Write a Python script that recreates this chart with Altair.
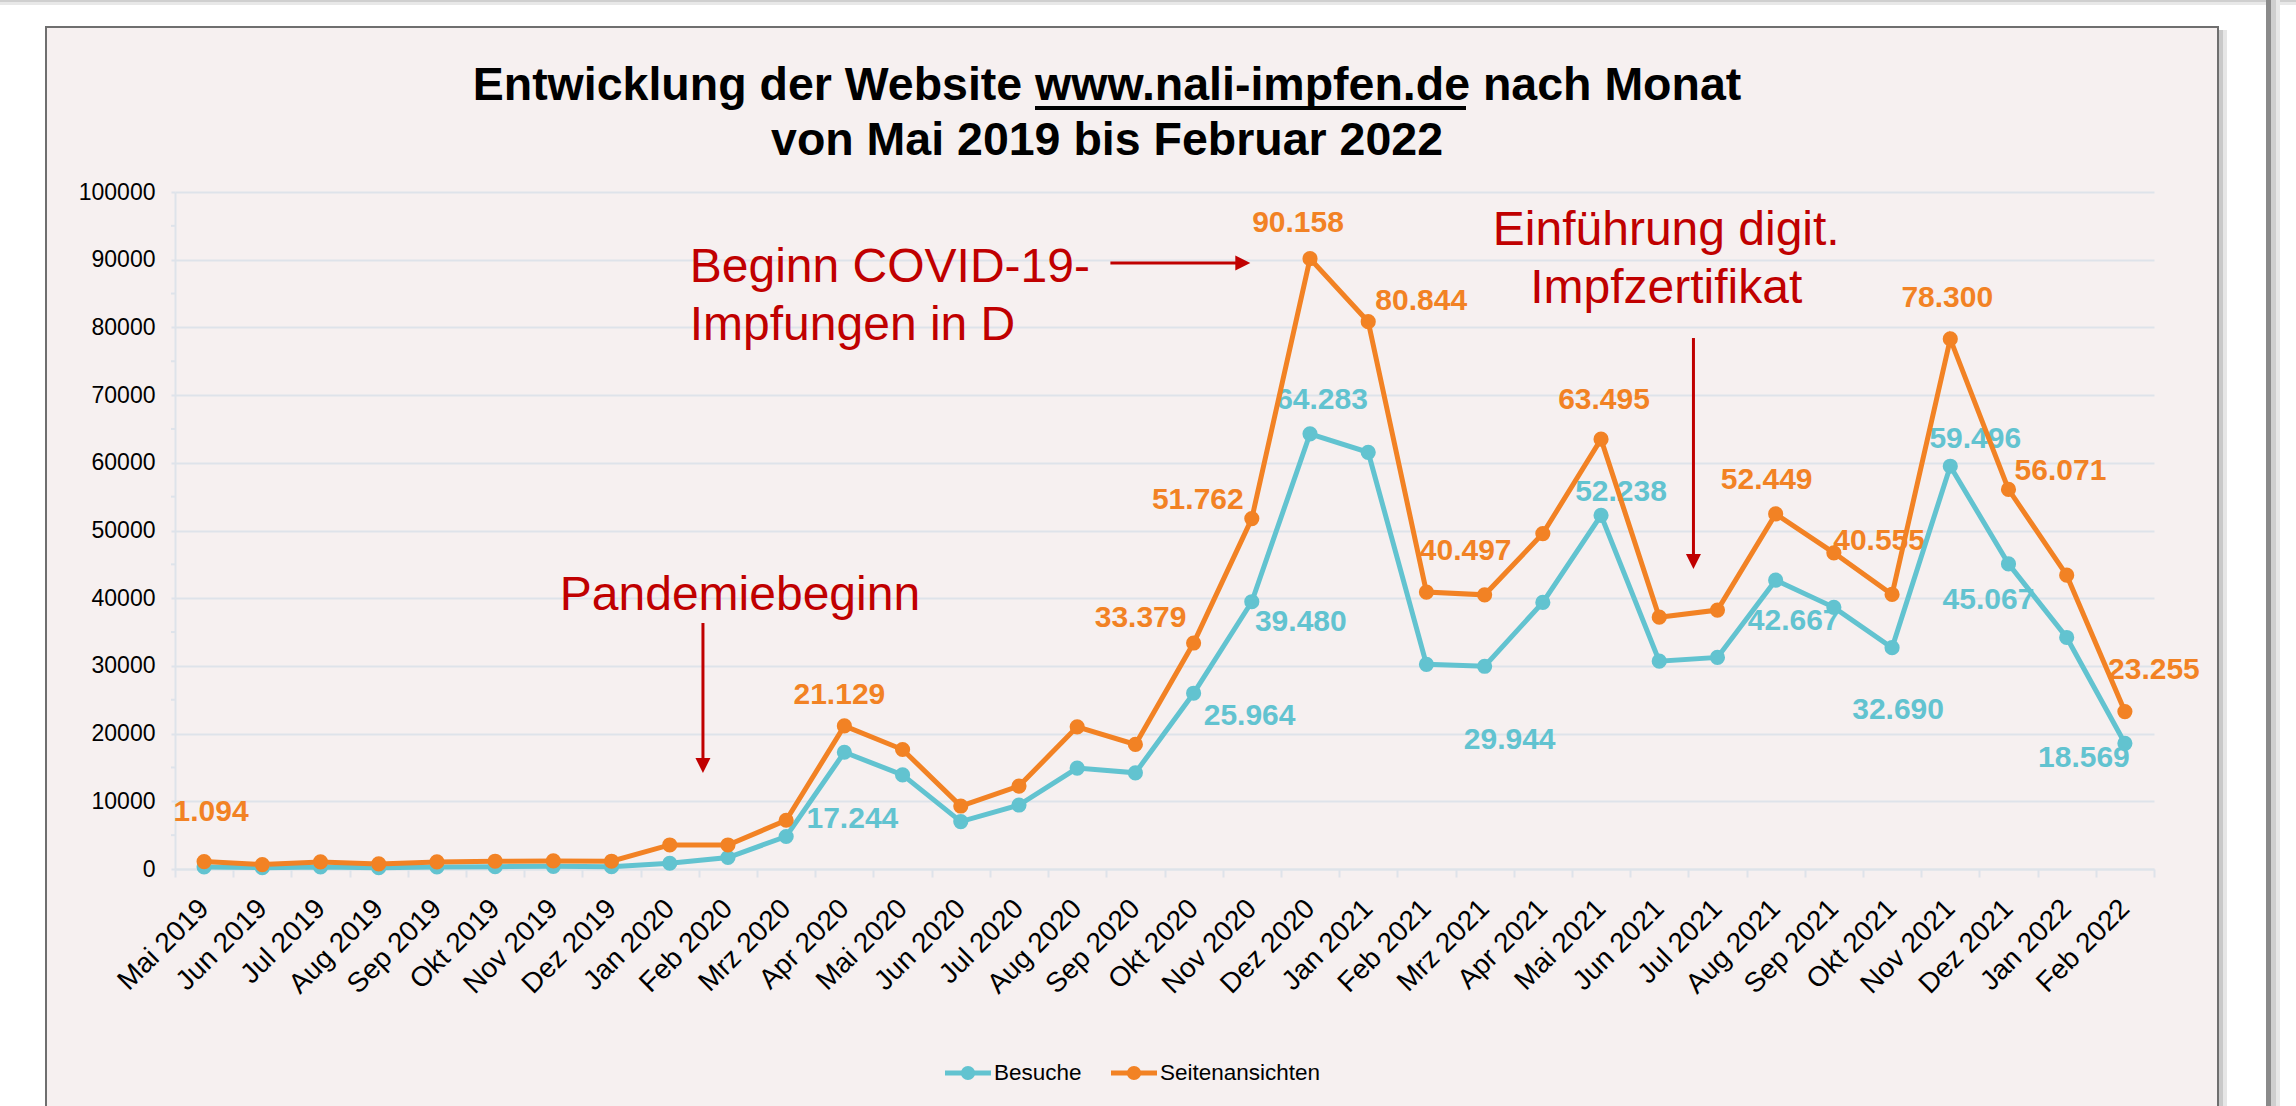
import altair as alt
import pandas as pd

# ---------------- data ----------------
months = ["Mai 2019", "Jun 2019", "Jul 2019", "Aug 2019", "Sep 2019", "Okt 2019", "Nov 2019", "Dez 2019",
          "Jan 2020", "Feb 2020", "Mrz 2020", "Apr 2020", "Mai 2020", "Jun 2020", "Jul 2020", "Aug 2020",
          "Sep 2020", "Okt 2020", "Nov 2020", "Dez 2020", "Jan 2021", "Feb 2021", "Mrz 2021", "Apr 2021",
          "Mai 2021", "Jun 2021", "Jul 2021", "Aug 2021", "Sep 2021", "Okt 2021", "Nov 2021", "Dez 2021",
          "Jan 2022", "Feb 2022"]
besuche = [300, 200, 300, 200, 300, 350, 400, 350, 850, 1700, 4800, 17244, 13900, 7000, 9450, 14900,
           14200, 25964, 39480, 64283, 61550, 30230, 29944, 39380, 52238, 30700, 31250, 42667, 38650,
           32690, 59496, 45067, 34200, 18569]
seitenansichten = [1094, 650, 1050, 750, 1050, 1150, 1200, 1150, 3550, 3550, 7200, 21129, 17650, 9300,
                   12250, 21000, 18400, 33379, 51762, 90158, 80844, 40900, 40497, 49550, 63495, 37200,
                   38250, 52449, 46700, 40555, 78300, 56071, 43400, 23255]
series_names = ["Besuche", "Seitenansichten"]
minor_ticks = list(range(5000, 100000, 10000))

title_lines = ["Entwicklung der Website www.nali-impfen.de  nach Monat", "von Mai 2019 bis Februar 2022"]

# ---------------- layout / style ----------------
FONT = "Liberation Sans, Arial, Helvetica, sans-serif"
TEAL = "#62C3D0"
ORANGE = "#F28224"
SERIES_COLORS = [TEAL, ORANGE]
RED = "#C00000"
GRID = "#DEE3EA"
BG = "#F6F0F0"
CANVAS_W, CANVAS_H = 2296, 1106
LEFT, TOP = 175, 192
W, H = 1979, 677
YMAX = 100000
BW = W / len(months)

# which points carry a value label, and the label centre offset from the point (px)
label_offsets = {
    "Seitenansichten": {
        "Mai 2019": (7, -50), "Apr 2020": (-5, -31), "Okt 2020": (-53, -25), "Nov 2020": (-54, -19),
        "Dez 2020": (-12, -36), "Jan 2021": (53, -21), "Mrz 2021": (-19, -44), "Mai 2021": (3, -39),
        "Aug 2021": (-9, -34), "Okt 2021": (-13, -53), "Nov 2021": (-3, -41), "Dez 2021": (52, -18),
        "Feb 2022": (29, -42),
    },
    "Besuche": {
        "Apr 2020": (8, 67), "Okt 2020": (56, 23), "Nov 2020": (49, 20), "Dez 2020": (12, -34),
        "Mrz 2021": (25, 74), "Mai 2021": (20, -23), "Aug 2021": (18, 41), "Okt 2021": (6, 62),
        "Nov 2021": (25, -27), "Dez 2021": (-20, 36), "Feb 2022": (-41, 15),
    },
}
# legend entry layout (canvas px): symbol left edge, symbol width, vertical centre
legend_layout = {"Besuche": 945, "Seitenansichten": 1111}
LEG_SYM_W, LEG_Y = 46, 1073

rows = []
for s, vals in zip(series_names, [besuche, seitenansichten]):
    for i, (m, v) in enumerate(zip(months, vals)):
        rows.append({"month": m, "series": s, "value": v, "order": i})
df = pd.DataFrame(rows)

lab_rows = []
for s, vals in zip(series_names, [besuche, seitenansichten]):
    lookup = dict(zip(months, vals))
    for m, (dx, dy) in label_offsets[s].items():
        v = lookup[m]
        lab_rows.append({"month": m, "series": s, "value": v,
                         "text": f"{v:,}".replace(",", "."), "dx": dx, "dy": dy})
labdf = pd.DataFrame(lab_rows)

xsc = alt.Scale(domain=months, paddingInner=0, paddingOuter=0)
ysc = alt.Scale(domain=[0, YMAX], nice=False, zero=True)


def csc():
    return alt.Scale(domain=series_names, range=SERIES_COLORS)


one = pd.DataFrame({"k": [0]})


def ax(X):
    return X - LEFT


def ay(Y):
    return Y - TOP


def deco_rect(x1, y1, x2, y2, color):
    return alt.Chart(one).mark_rect(color=color, opacity=1).encode(
        x=alt.value(ax(x1)), x2=alt.value(ax(x2)), y=alt.value(ay(y1)), y2=alt.value(ay(y2)))


# ---------------- frame decoration ----------------
deco = [
    deco_rect(0, 0, 45, CANVAS_H, "white"),
    deco_rect(0, 0, CANVAS_W, 26, "white"),
    deco_rect(2219, 0, CANVAS_W, CANVAS_H, "white"),
    deco_rect(0, 0, CANVAS_W, 2, "#CFCFCF"),
    deco_rect(0, 2, CANVAS_W, 5, "#E8E8E8"),
    deco_rect(45, 26, 47, CANVAS_H, "#6F6F6F"),
    deco_rect(45, 26, 2219, 28, "#6F6F6F"),
    deco_rect(2217, 26, 2219, CANVAS_H, "#6F6F6F"),
    deco_rect(2219, 30, 2223, CANVAS_H, "#C9C9C9"),
    deco_rect(2223, 30, 2227, CANVAS_H, "#E6E6E6"),
    deco_rect(2266, 0, 2271, CANVAS_H, "#8A8A8A"),
    deco_rect(2271, 0, 2276, CANVAS_H, "#CFCFCF"),
    deco_rect(2276, 0, 2280, CANVAS_H, "#E8E8E8"),
]

# ---------------- axes ----------------
xaxis = alt.Axis(title=None, labelAngle=-45, labelAlign="right", labelBaseline="middle",
                 labelFont=FONT, labelFontSize=28, labelColor="black", labelPadding=27,
                 labelOverlap=False, tickBand="extent", tickSize=8, tickColor=GRID, tickWidth=2,
                 domainColor=GRID, domainWidth=2, grid=False)
yaxis = alt.Axis(title=None, values=list(range(0, YMAX + 1, 10000)), format="d",
                 labelFont=FONT, labelFontSize=23, labelColor="black", labelPadding=16,
                 tickSize=4, tickColor=GRID, tickWidth=2, domainColor=GRID, domainWidth=2,
                 grid=True, gridColor=GRID, gridWidth=2)


def X(field="month"):
    return alt.X(f"{field}:N", scale=xsc, axis=xaxis)


def Y(field):
    return alt.Y(f"{field}:Q", scale=ysc, axis=yaxis)


minor = alt.Chart(pd.DataFrame({"t": minor_ticks})).mark_rule(color=GRID, strokeWidth=2).encode(
    x=alt.value(-4), x2=alt.value(0), y=Y("t"))

# ---------------- data layers ----------------
labels = alt.Chart(labdf).transform_calculate(
    xo=f"datum.dx + {BW / 2}",
    ly=f"datum.value - datum.dy * {YMAX / H}",
).mark_text(font=FONT, fontSize=30, fontWeight="bold", align="center", baseline="middle").encode(
    x=X(),
    xOffset=alt.XOffset("xo:Q", scale=None),
    y=Y("ly"),
    text="text:N",
    fill=alt.Fill("series:N", scale=csc(), legend=None),
)

lines = alt.Chart(df).mark_line(strokeWidth=5).encode(
    x=X(), y=Y("value"),
    stroke=alt.Stroke("series:N", scale=csc(), legend=None),
    order=alt.Order("order:Q"),
)

points = alt.Chart(df).mark_point(filled=True, size=230, opacity=1, shape="circle", strokeWidth=0).encode(
    x=X(), y=Y("value"),
    color=alt.Color("series:N", scale=csc(), legend=None),
)

# ---------------- legend (drawn as marks) ----------------
legend_layers = []
for s, col in zip(series_names, SERIES_COLORS):
    x0 = legend_layout[s]
    d = pd.DataFrame({"series": [s]})
    legend_layers += [
        alt.Chart(d).mark_rule(color=col, strokeWidth=5).encode(
            x=alt.value(ax(x0)), x2=alt.value(ax(x0 + LEG_SYM_W)), y=alt.value(ay(LEG_Y))),
        alt.Chart(d).mark_point(filled=True, size=200, opacity=1, color=col, strokeWidth=0).encode(
            x=alt.value(ax(x0 + LEG_SYM_W / 2)), y=alt.value(ay(LEG_Y))),
        alt.Chart(d).mark_text(font=FONT, fontSize=22.5, color="black", align="left",
                               baseline="middle").encode(
            x=alt.value(ax(x0 + LEG_SYM_W + 3)), y=alt.value(ay(LEG_Y)), text="series:N"),
    ]

# ---------------- annotations ----------------
ann_covid = pd.DataFrame({"month": ["Jan 2020"], "y": [86700], "text": ["Beginn COVID-19-\nImpfungen in D"]})
ann_pand = pd.DataFrame({"month": ["Feb 2020"], "y": [38250], "text": ["Pandemiebeginn"]})
ann_cert = pd.DataFrame({"month": ["Jun 2021"], "y": [92170], "text": ["Einführung digit.\nImpfzertifikat"]})


def ann_text(data, align, dx):
    return alt.Chart(data).mark_text(font=FONT, fontSize=48, color=RED, align=align,
                                     baseline="alphabetic", lineBreak="\n", lineHeight=58, dx=dx).encode(
        x=X(), y=Y("y"), text="text:N")


arr_pand = pd.DataFrame({"month": ["Feb 2020"], "y": [36340], "y2": [15290]})
arr_cert = pd.DataFrame({"month": ["Jul 2021"], "y": [78430], "y2": [45420]})
arr_covid = pd.DataFrame({"month": ["Sep 2020"], "month2": ["Nov 2020"], "y": [89510]})

DOWN = "M-1,-1L1,-1L0,1Z"
RIGHT = "M-1,-1L1,0L-1,1Z"


def v_arrow(data, xoff):
    shaft = alt.Chart(data).mark_rule(color=RED, strokeWidth=3, xOffset=xoff).encode(
        x=X(), y=Y("y"), y2="y2:Q")
    head = alt.Chart(data).mark_point(shape=DOWN, size=225, filled=True, opacity=1, color=RED,
                                      strokeWidth=0, xOffset=xoff).encode(
        x=X(), y=Y("y2"))
    return [shaft, head]


covid_shaft = alt.Chart(arr_covid).mark_rule(color=RED, strokeWidth=3, xOffset=-25, x2Offset=-9).encode(
    x=X(), x2="month2:N", y=Y("y"))
covid_head = alt.Chart(arr_covid).mark_point(shape=RIGHT, size=225, filled=True, opacity=1, color=RED,
                                             strokeWidth=0, xOffset=-9).encode(
    x=X("month2"), y=Y("y"))

# ---------------- title ----------------
title = alt.Chart(one).mark_text(font=FONT, fontSize=46.5, fontWeight="bold", color="black",
                                 align="center", baseline="alphabetic", lineBreak="\n",
                                 lineHeight=55).encode(
    x=alt.value(ax(1107)), y=alt.value(ay(100)), text=alt.value("\n".join(title_lines)))
underline = deco_rect(1035, 106, 1466, 110, "black")

layers = deco + [minor, labels, lines, points,
                 ann_text(ann_covid, "left", 20), ann_text(ann_pand, "center", 12),
                 ann_text(ann_cert, "center", 7)] + v_arrow(arr_pand, -25) + v_arrow(arr_cert, -24) + [
    covid_shaft, covid_head, title, underline] + legend_layers

chart = alt.layer(*layers).properties(
    width=W, height=H,
    padding={"left": LEFT, "top": TOP, "right": CANVAS_W - LEFT - W, "bottom": CANVAS_H - TOP - H},
    autosize=alt.AutoSizeParams(type="none"),
    background=BG,
).configure_view(stroke=None)

chart.save("out.html", embed_options={"renderer": "svg", "actions": False})
